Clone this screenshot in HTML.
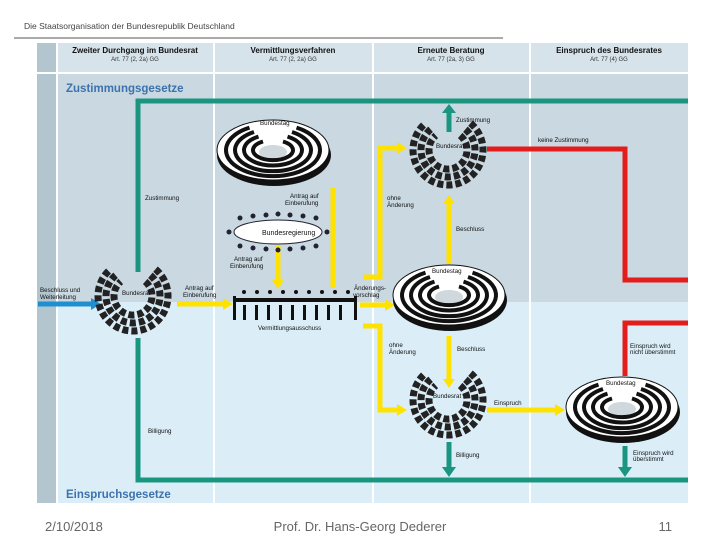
<!DOCTYPE html>
<html><head><meta charset="utf-8"><style>
body{margin:0;width:720px;height:540px;background:#fff;overflow:hidden;font-family:"Liberation Sans",sans-serif}
</style></head><body>
<svg width="720" height="540" viewBox="0 0 720 540" xmlns="http://www.w3.org/2000/svg" font-family="Liberation Sans, sans-serif">
<defs>
<g id="br">
 <g fill="none" stroke="#222" stroke-width="7" stroke-dasharray="6 3">
  <path d="M12.2,-14.5 A19,19 0 1 1 -12.2,-14.5"/>
  <path d="M17.4,-20.7 A27,27 0 1 1 -17.4,-20.7"/>
  <path d="M22.5,-26.8 A35,35 0 1 1 -22.5,-26.8"/>
 </g>
</g>
<g id="bt">
 <ellipse cx="1" cy="5" rx="57" ry="31" fill="#111"/>
 <ellipse cx="0" cy="0" rx="56" ry="30" fill="#fff" stroke="#111" stroke-width="1"/>
 <ellipse cx="0" cy="2" rx="14" ry="7" fill="#cfd8dc"/>
 <g fill="none" stroke="#111" stroke-width="4">
  <path d="M23.5,-22.4 A47,26 0 1 1 -23.5,-22.4"/>
  <path d="M19,-18 A38,21 0 1 1 -19,-18"/>
  <path d="M14.5,-13.4 A29,15.5 0 1 1 -14.5,-13.4"/>
  <path d="M10,-8.5 A20,10 0 1 1 -10,-8.5"/>
 </g>
</g>
</defs>
<text x="24" y="29" font-size="8.5" fill="#444">Die Staatsorganisation der Bundesrepublik Deutschland</text>
<line x1="14" y1="38" x2="503" y2="38" stroke="#555" stroke-width="1"/>
<rect x="37" y="43" width="651" height="460" fill="#dbeef8"/>
<rect x="37" y="73" width="651" height="229" fill="#c9d8e1"/>
<rect x="37" y="43" width="651" height="30" fill="#d6e3ea"/>
<rect x="37" y="43" width="19" height="460" fill="#b3c5cf"/>
<g stroke="#fff" stroke-width="2"><line x1="57" y1="43" x2="57" y2="503"/><line x1="214" y1="43" x2="214" y2="503"/><line x1="373" y1="43" x2="373" y2="503"/><line x1="530" y1="43" x2="530" y2="503"/><line x1="37" y1="73" x2="688" y2="73"/></g>
<g font-size="8" text-anchor="middle" fill="#111" font-weight="bold">
<text x="135" y="53">Zweiter Durchgang im Bundesrat</text>
<text x="293" y="53">Vermittlungsverfahren</text>
<text x="451" y="53">Erneute Beratung</text>
<text x="609" y="53">Einspruch des Bundesrates</text>
</g>
<g font-size="6" text-anchor="middle" fill="#333">
<text x="135" y="61">Art. 77 (2, 2a) GG</text><text x="293" y="61">Art. 77 (2, 2a) GG</text>
<text x="451" y="61">Art. 77 (2a, 3) GG</text><text x="609" y="61">Art. 77 (4) GG</text>
</g>
<text x="66" y="92" font-size="11.5" font-weight="bold" fill="#3d72ad">Zustimmungsgesetze</text>
<text x="66" y="498" font-size="11.5" font-weight="bold" fill="#3d72ad">Einspruchsgesetze</text>
<g stroke="#1a9680" stroke-width="5" fill="none">
<path d="M688,101 H138 V272"/>
<path d="M688,480 H138 V338"/>
<line x1="449" y1="132" x2="449" y2="112"/>
<line x1="449" y1="442" x2="449" y2="468"/>
<line x1="625" y1="446" x2="625" y2="468"/>
</g>
<g fill="#1a9680">
<polygon points="442,113 456,113 449,104"/>
<polygon points="442,467 456,467 449,477"/>
<polygon points="618,467 632,467 625,477"/>
</g>
<g stroke="#e31c1c" stroke-width="5" fill="none">
<path d="M487,149 H625 V280 H688"/>
<path d="M688,323 H625 V376"/>
</g>
<line x1="38" y1="304" x2="92" y2="304" stroke="#1f8fd0" stroke-width="5"/>
<polygon points="91,298 101,304 91,310" fill="#1f8fd0"/>
<g stroke="#ffe200" stroke-width="5" fill="none">
<line x1="177" y1="304" x2="224" y2="304"/>
<line x1="278" y1="246" x2="278" y2="280"/>
<line x1="333" y1="188" x2="333" y2="288"/>
<line x1="360" y1="305" x2="386" y2="305"/>
<path d="M363,277 H380 V148 H398"/>
<path d="M363,326 H380 V410 H398"/>
<line x1="449" y1="264" x2="449" y2="203"/>
<line x1="449" y1="336" x2="449" y2="380"/>
<line x1="487" y1="410" x2="556" y2="410"/>
</g>
<g fill="#ffe200">
<polygon points="223,298 233,304 223,310"/>
<polygon points="272,280 284,280 278,289"/>
<polygon points="385,299 395,305 385,311"/>
<polygon points="397,142 407,148 397,154"/>
<polygon points="397,404 407,410 397,416"/>
<polygon points="443,204 455,204 449,195"/>
<polygon points="443,379 455,379 449,388"/>
<polygon points="555,404 565,410 555,416"/>
</g>
<use href="#br" x="133" y="296"/>
<use href="#br" x="448" y="150"/>
<use href="#br" x="448" y="400"/>
<use href="#bt" x="273" y="150"/>
<use href="#bt" x="449" y="295"/>
<use href="#bt" x="622" y="407"/>
<g fill="#223">
<circle cx="240" cy="218" r="2.5"/><circle cx="253" cy="216" r="2.5"/><circle cx="266" cy="215" r="2.5"/><circle cx="278" cy="214" r="2.5"/><circle cx="290" cy="215" r="2.5"/><circle cx="303" cy="216" r="2.5"/><circle cx="316" cy="218" r="2.5"/>
<circle cx="240" cy="246" r="2.5"/><circle cx="253" cy="248" r="2.5"/><circle cx="266" cy="249" r="2.5"/><circle cx="278" cy="250" r="2.5"/><circle cx="290" cy="249" r="2.5"/><circle cx="303" cy="248" r="2.5"/><circle cx="316" cy="246" r="2.5"/>
<circle cx="229" cy="232" r="2.5"/><circle cx="327" cy="232" r="2.5"/>
</g>
<ellipse cx="278" cy="232" rx="44" ry="12" fill="#fff" stroke="#223" stroke-width="1"/>
<g fill="#111">
<rect x="235" y="298" width="122" height="4"/>
<rect x="233" y="296" width="3" height="24"/><rect x="354" y="296" width="3" height="24"/>
<rect x="243" y="305" width="3" height="15"/><rect x="255" y="305" width="3" height="15"/><rect x="267" y="305" width="3" height="15"/><rect x="279" y="305" width="3" height="15"/><rect x="291" y="305" width="3" height="15"/><rect x="303" y="305" width="3" height="15"/><rect x="315" y="305" width="3" height="15"/><rect x="327" y="305" width="3" height="15"/><rect x="339" y="305" width="3" height="15"/>
<circle cx="244" cy="292" r="2"/><circle cx="257" cy="292" r="2"/><circle cx="270" cy="292" r="2"/><circle cx="283" cy="292" r="2"/><circle cx="296" cy="292" r="2"/><circle cx="309" cy="292" r="2"/><circle cx="322" cy="292" r="2"/><circle cx="335" cy="292" r="2"/><circle cx="348" cy="292" r="2"/>
</g>
<g font-size="6.2" fill="#111">
<text x="122" y="295">Bundesrat</text>
<text x="436" y="148">Bundesrat</text>
<text x="433" y="398">Bundesrat</text>
<text x="260" y="125">Bundestag</text>
<text x="432" y="273">Bundestag</text>
<text x="606" y="385">Bundestag</text>
<text x="262" y="235" font-size="7">Bundesregierung</text>
<text x="258" y="330">Vermittlungsausschuss</text>
<text x="40" y="292">Beschluss und</text><text x="40" y="299">Weiterleitung</text>
<text x="185" y="290">Antrag auf</text><text x="183" y="297">Einberufung</text>
<text x="290" y="198">Antrag auf</text><text x="285" y="205">Einberufung</text>
<text x="234" y="261">Antrag auf</text><text x="230" y="268">Einberufung</text>
<text x="145" y="200">Zustimmung</text>
<text x="354" y="290">Änderungs-</text><text x="353" y="297">vorschlag</text>
<text x="387" y="200">ohne</text><text x="387" y="207">Änderung</text>
<text x="389" y="347">ohne</text><text x="389" y="354">Änderung</text>
<text x="456" y="231">Beschluss</text>
<text x="457" y="351">Beschluss</text>
<text x="456" y="122">Zustimmung</text>
<text x="538" y="142">keine Zustimmung</text>
<text x="494" y="405">Einspruch</text>
<text x="456" y="457">Billigung</text>
<text x="148" y="433">Billigung</text>
<text x="630" y="348">Einspruch wird</text><text x="630" y="354">nicht überstimmt</text>
<text x="633" y="455">Einspruch wird</text><text x="633" y="461">überstimmt</text>
</g>
<g font-size="13" fill="#666">
<text x="45" y="531">2/10/2018</text>
<text x="360" y="531" text-anchor="middle">Prof. Dr. Hans-Georg Dederer</text>
<text x="672" y="531" text-anchor="end">11</text>
</g>
</svg>
</body></html>
